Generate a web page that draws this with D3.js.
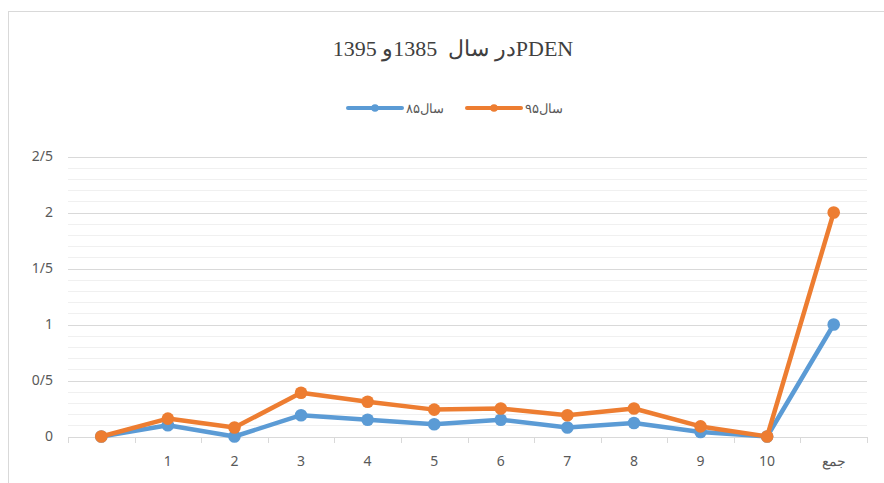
<!DOCTYPE html>
<html>
<head>
<meta charset="utf-8" />
<title>PDEN chart</title>
<script src="https://d3js.org/d3.v7.min.js"></script>
<style>
  body { margin: 0; background: #fff; }
  svg { display: block; }
  .axis text { font-family: "Noto Sans", "Open Sans", sans-serif; font-size: 14px; fill: #595959; }
</style>
</head>
<body>
<div id="holder"></div>
<script>
// data
const categories = ["", "1", "2", "3", "4", "5", "6", "7", "8", "9", "10", "جمع"];
const values85 = [0, 0.10, 0, 0.19, 0.15, 0.11, 0.15, 0.08, 0.12, 0.04, 0, 1];
const values95 = [0, 0.16, 0.08, 0.39, 0.31, 0.24, 0.25, 0.19, 0.25, 0.09, 0, 2];
const yTicks = [0, 0.5, 1, 1.5, 2, 2.5];
const yTickLabels = ["0", "0/5", "1", "1/5", "2", "2/5"];
const seriesNames = ["سال۸۵", "سال۹۵"];
const chartTitle = "PDENدر سال  1385و 1395";

const w = 884, h = 483;
const plotLeft = 68, plotRight = 867, plotTop = 156.5, plotBottom = 436.5;

const svg = d3.select("#holder").append("svg")
  .attr("width", w)
  .attr("height", h);

// chart border
svg.append("rect")
  .attr("x", 8.5).attr("y", 11.5)
  .attr("width", w + 10).attr("height", h + 10)
  .attr("fill", "none")
  .attr("stroke", "#d9d9d9");

// scales
const x = d3.scaleBand().domain(d3.range(categories.length)).range([plotLeft, plotRight]);
const y = d3.scaleLinear().domain([0, 2.5]).range([plotBottom, plotTop]);

// minor grid
svg.append("g")
  .selectAll("line")
  .data(d3.range(1, 25).map(d => d / 10).filter(d => Math.round(d * 10) % 5 !== 0))
  .join("line")
  .attr("x1", plotLeft).attr("x2", plotRight)
  .attr("y1", d => Math.round(y(d)) + 0.5).attr("y2", d => Math.round(y(d)) + 0.5)
  .attr("stroke", "#f0f0f0");

// major grid
svg.append("g")
  .selectAll("line")
  .data(yTicks.slice(1))
  .join("line")
  .attr("x1", plotLeft).attr("x2", plotRight)
  .attr("y1", d => Math.round(y(d)) + 0.5).attr("y2", d => Math.round(y(d)) + 0.5)
  .attr("stroke", "#d9d9d9");

// y axis labels
const yAxis = d3.axisLeft(y).tickValues(yTicks).tickSize(0).tickPadding(15)
  .tickFormat((d, i) => yTickLabels[i]);
svg.append("g")
  .attr("class", "axis")
  .attr("transform", "translate(" + plotLeft + ",0)")
  .call(yAxis)
  .call(g => g.select(".domain").remove());

// x axis line + ticks at band edges
const xg = svg.append("g").attr("class", "axis");
xg.append("line")
  .attr("x1", plotLeft).attr("x2", plotRight)
  .attr("y1", Math.round(plotBottom) + 0.5).attr("y2", Math.round(plotBottom) + 0.5)
  .attr("stroke", "#d9d9d9");
xg.selectAll("line.tick")
  .data(d3.range(categories.length + 1))
  .join("line")
  .attr("class", "tick")
  .attr("x1", d => Math.round(plotLeft + d * x.step()) + 0.5)
  .attr("x2", d => Math.round(plotLeft + d * x.step()) + 0.5)
  .attr("y1", Math.round(plotBottom)).attr("y2", Math.round(plotBottom) + 6)
  .attr("stroke", "#d9d9d9");
xg.selectAll("text")
  .data(categories)
  .join("text")
  .attr("x", (d, i) => x(i) + x.bandwidth() / 2)
  .attr("y", 466)
  .attr("text-anchor", "middle")
  .text(d => d);

// lines
const line = d3.line()
  .x((d, i) => x(i) + x.bandwidth() / 2)
  .y(d => y(d));

const series = [
  { name: seriesNames[0], values: values85, color: "#5b9bd5" },
  { name: seriesNames[1], values: values95, color: "#ed7d31" }
];

series.forEach(s => {
  svg.append("path")
    .datum(s.values)
    .attr("d", line)
    .attr("fill", "none")
    .attr("stroke", s.color)
    .attr("stroke-width", 4.5)
    .attr("stroke-linejoin", "round");
  svg.append("g")
    .selectAll("circle")
    .data(s.values)
    .join("circle")
    .attr("cx", (d, i) => x(i) + x.bandwidth() / 2)
    .attr("cy", d => y(d))
    .attr("r", 6.3)
    .attr("fill", s.color);
});

// title
svg.append("text")
  .attr("x", 453)
  .attr("y", 56)
  .attr("text-anchor", "middle")
  .attr("direction", "rtl")
  .style("unicode-bidi", "embed")
  .style("white-space", "pre")
  .style("font-family", "'Liberation Serif', 'Times New Roman', serif")
  .style("font-size", "22px")
  .style("fill", "#404040")
  .text(chartTitle);

// legend
const legendPos = [348, 467];
series.forEach((s, i) => {
  const lx = legendPos[i];
  const g = svg.append("g");
  g.append("line")
    .attr("x1", lx).attr("x2", lx + 54)
    .attr("y1", 108).attr("y2", 108)
    .attr("stroke", s.color)
    .attr("stroke-width", 4)
    .attr("stroke-linecap", "round");
  g.append("circle")
    .attr("cx", lx + 27).attr("cy", 108).attr("r", 3.8)
    .attr("fill", s.color);
  g.append("text")
    .attr("x", lx + 58)
    .attr("y", 112.5)
    .attr("direction", "rtl")
    .attr("text-anchor", "end")
    .style("font-family", "'Noto Sans', sans-serif")
    .style("font-size", "13px")
    .style("fill", "#595959")
    .text(s.name);
});
</script>
</body>
</html>
